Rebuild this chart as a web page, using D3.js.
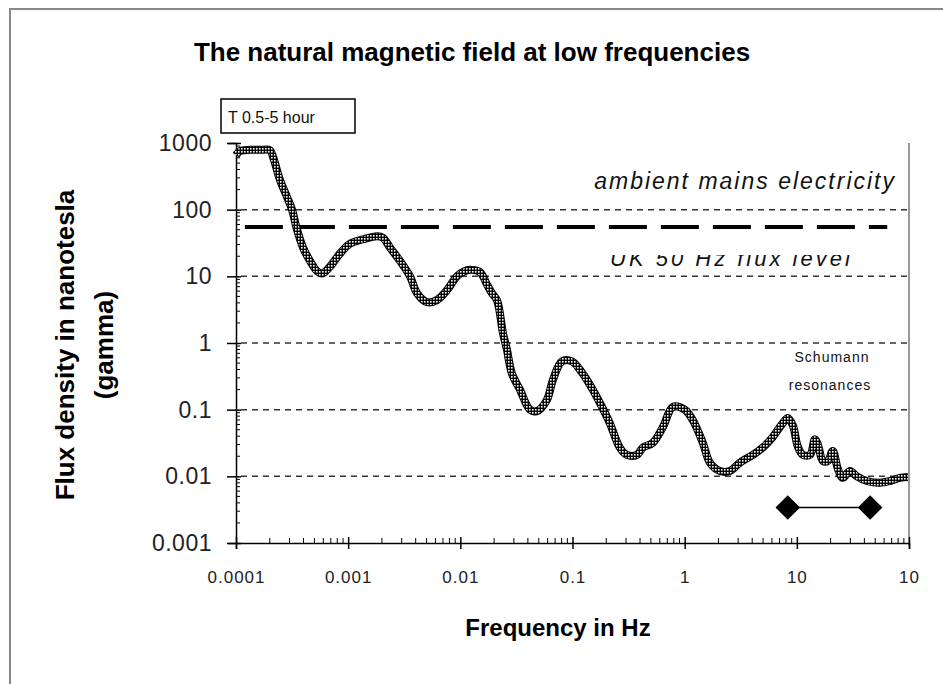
<!DOCTYPE html>
<html><head><meta charset="utf-8">
<script src="https://cdn.jsdelivr.net/npm/d3@7"></script>
<style>body{margin:0;background:#fff} svg{display:block}</style>
</head><body>
<svg id="chart" width="943" height="684"></svg>
<script>
// ---- data ----
const freqs = [1.00e-4,1.09e-4,1.33e-4,1.64e-4,2.01e-4,2.14e-4,2.47e-4,2.85e-4,3.16e-4,3.50e-4,
  3.96e-4,4.57e-4,5.27e-4,5.85e-4,6.89e-4,8.46e-4,1.04e-3,1.36e-3,1.81e-3,2.04e-3,
  2.36e-3,2.90e-3,3.56e-3,4.11e-3,5.04e-3,6.18e-3,7.60e-3,9.33e-3,1.10e-2,1.27e-2,
  1.50e-2,1.73e-2,1.91e-2,2.12e-2,2.40e-2,2.60e-2,2.88e-2,3.40e-2,4.17e-2,4.81e-2,
  5.91e-2,6.69e-2,8.05e-2,9.89e-2,0.116,0.149,0.183,0.215,0.264,0.305,
  0.375,0.424,0.521,0.640,0.785,1.00,1.18,1.45,1.68,2.06,
  2.53,3.10,4.06,4.98,6.11,7.50,8.31,9.21,10.2,11.3,
  13.1,14.5,15.4,17.1,18.9,20.9,23.2,25.7,29.7,34.3,
  42.1,54.9,67.5,82.8,97.6];
const flux = [660,760,790,790,780,617,278,155,100,50,
  27,17,12,11,14,22,31,36,40,38,
  27,17,10,5.6,4.1,4.4,6.2,10,12,12.5,
  11.6,7.5,5.6,4.4,1.4,0.8,0.35,0.2,0.1,0.095,
  0.14,0.28,0.53,0.53,0.4,0.21,0.11,0.063,0.027,0.021,
  0.021,0.027,0.032,0.055,0.11,0.1,0.07,0.032,0.016,0.012,
  0.012,0.016,0.021,0.027,0.039,0.063,0.075,0.058,0.028,0.021,
  0.021,0.036,0.030,0.017,0.017,0.024,0.013,0.0095,0.012,0.010,
  0.0085,0.008,0.0085,0.0095,0.0098];
const xTicks = [1e-4,1e-3,1e-2,1e-1,1,10,100];
const xTickLabels = ["0.0001","0.001","0.01","0.1","1","10","10"];
const yTicks = [1e-3,1e-2,1e-1,1,10,100,1000];
const yTickLabels = ["0.001","0.01","0.1","1","10","100","1000"];
const gridValues = [0.01,0.1,1,10,100];
const mainsLevel = 55;
const mainsFreqRange = [1.2e-4, 64];
const schumannFreqs = [8.3, 45];
const schumannLevel = 0.0034;

// ---- layout ----
const svg = d3.select("#chart");
const L = 236, R = 909, T = 143, B = 543;
const x = d3.scaleLog().domain([1e-4, 1e2]).range([L, R]);
const y = d3.scaleLog().domain([1e-3, 1e3]).range([B, T]);
const FONT = "Liberation Sans, Arial, sans-serif";

// outer frame
svg.append("rect").attr("x",10).attr("y",9).attr("width",1000).attr("height",1000)
  .attr("fill","none").attr("stroke","#888").attr("stroke-width",2);

// pattern for line texture
const defs = svg.append("defs");
const pat = defs.append("pattern").attr("id","hatch").attr("width",3).attr("height",3)
  .attr("patternUnits","userSpaceOnUse");
pat.append("rect").attr("width",3).attr("height",3).attr("fill","#000");
pat.append("rect").attr("x",1).attr("y",1).attr("width",1.6).attr("height",1.6).attr("fill","#fff");
defs.append("clipPath").attr("id","ukclip").append("rect")
  .attr("x",500).attr("y",255).attr("width",400).attr("height",30);

// title
svg.append("text").attr("x",472).attr("y",61).attr("text-anchor","middle")
  .attr("font-family",FONT).attr("font-weight","bold").attr("font-size",26)
  .text("The natural magnetic field at low frequencies");

// gridlines
svg.append("g").selectAll("line").data(gridValues).join("line")
  .attr("x1",L+5).attr("x2",R).attr("y1",d=>y(d)).attr("y2",d=>y(d))
  .attr("stroke","#333").attr("stroke-width",1.5).attr("stroke-dasharray","6,5");

// right border
svg.append("line").attr("x1",R).attr("x2",R).attr("y1",T).attr("y2",B+2)
  .attr("stroke","#999").attr("stroke-width",2);

// y axis
const yAxis = svg.append("g").attr("transform",`translate(${L},0)`)
  .call(d3.axisLeft(y).tickValues(yTicks).tickFormat((d,i)=>yTickLabels[i]).tickSize(8).tickPadding(16));
yAxis.select(".domain").attr("stroke","#000").attr("stroke-width",1.5);
yAxis.selectAll(".tick line").attr("x2",-9).attr("x1",5).attr("stroke","#000").attr("stroke-width",1.5);
yAxis.selectAll(".tick text").attr("font-family",FONT).attr("font-size",23).attr("fill","#222")
  .attr("letter-spacing",0.5).attr("x",-24);
const yMinor = y.ticks().filter(v => !yTicks.some(t => Math.abs(Math.log10(t)-Math.log10(v))<1e-6));
svg.append("g").selectAll("line").data(yMinor).join("line")
  .attr("x1",L).attr("x2",L+4).attr("y1",d=>y(d)).attr("y2",d=>y(d))
  .attr("stroke","#000").attr("stroke-width",1);

// x axis
const xAxis = svg.append("g").attr("transform",`translate(0,${B})`)
  .call(d3.axisBottom(x).tickValues(xTicks).tickFormat((d,i)=>xTickLabels[i]).tickSize(6).tickPadding(22));
xAxis.select(".domain").attr("stroke","#000").attr("stroke-width",1.5);
xAxis.selectAll(".tick line").attr("y1",-6).attr("y2",6).attr("stroke","#000").attr("stroke-width",1.5);
xAxis.selectAll(".tick text").attr("font-family",FONT).attr("font-size",17).attr("fill","#222")
  .attr("letter-spacing",1);
const xMinor = x.ticks().filter(v => !xTicks.some(t => Math.abs(Math.log10(t)-Math.log10(v))<1e-6));
svg.append("g").selectAll("line").data(xMinor).join("line")
  .attr("x1",d=>x(d)).attr("x2",d=>x(d)).attr("y1",B-5).attr("y2",B)
  .attr("stroke","#000").attr("stroke-width",1);

// axis titles
svg.append("text").attr("x",558).attr("y",636).attr("text-anchor","middle")
  .attr("font-family",FONT).attr("font-weight","bold").attr("font-size",24)
  .text("Frequency in Hz");
svg.append("text").attr("transform","translate(74,345) rotate(-90)").attr("text-anchor","middle")
  .attr("font-family",FONT).attr("font-weight","bold").attr("font-size",26)
  .text("Flux density in nanotesla");
svg.append("text").attr("transform","translate(113,345) rotate(-90)").attr("text-anchor","middle")
  .attr("font-family",FONT).attr("font-weight","bold").attr("font-size",26)
  .text("(gamma)");

// mains level
svg.append("line").attr("x1",x(mainsFreqRange[0])).attr("x2",x(mainsFreqRange[1]))
  .attr("y1",y(mainsLevel)).attr("y2",y(mainsLevel))
  .attr("stroke","#000").attr("stroke-width",4).attr("stroke-dasharray","38,14");

// annotations
svg.append("text").attr("x",896).attr("y",189).attr("text-anchor","end")
  .attr("font-family",FONT).attr("font-style","italic").attr("font-size",23).attr("fill","#111")
  .attr("letter-spacing",2).text("ambient mains electricity");
svg.append("text").attr("x",610).attr("y",266).attr("clip-path","url(#ukclip)")
  .attr("font-family",FONT).attr("font-style","italic").attr("font-size",22).attr("fill","#111")
  .attr("letter-spacing",3).text("UK 50 Hz flux level");
svg.append("text").attr("x",832).attr("y",362).attr("text-anchor","middle")
  .attr("font-family",FONT).attr("font-size",14).attr("fill","#111").attr("letter-spacing",1)
  .text("Schumann");
svg.append("text").attr("x",830).attr("y",390).attr("text-anchor","middle")
  .attr("font-family",FONT).attr("font-size",14).attr("fill","#111").attr("letter-spacing",1)
  .text("resonances");

// T box
svg.append("rect").attr("x",221).attr("y",99).attr("width",134).attr("height",34)
  .attr("fill","#fff").attr("stroke","#000").attr("stroke-width",1.5);
svg.append("text").attr("x",228).attr("y",123)
  .attr("font-family",FONT).attr("font-size",16).attr("fill","#111")
  .text("T 0.5-5 hour");

// data curve
const pts = freqs.map((f,i)=>[f, flux[i]]);
const line = d3.line().x(d=>x(d[0])).y(d=>y(d[1])).curve(d3.curveCatmullRom.alpha(0.5));
svg.append("path").attr("d",line(pts)).attr("fill","none")
  .attr("stroke","#000").attr("stroke-width",8).attr("stroke-linejoin","round");
svg.append("path").attr("d",line(pts)).attr("fill","none")
  .attr("stroke","url(#hatch)").attr("stroke-width",6).attr("stroke-linejoin","round");

// Schumann band
svg.append("line").attr("x1",x(schumannFreqs[0])).attr("x2",x(schumannFreqs[1]))
  .attr("y1",y(schumannLevel)).attr("y2",y(schumannLevel))
  .attr("stroke","#000").attr("stroke-width",1.5);
svg.append("g").selectAll("path").data(schumannFreqs).join("path")
  .attr("transform",d=>`translate(${x(d)},${y(schumannLevel)}) rotate(45)`)
  .attr("d",d3.symbol(d3.symbolSquare, 300)()).attr("fill","#000");
</script>
</body></html>
